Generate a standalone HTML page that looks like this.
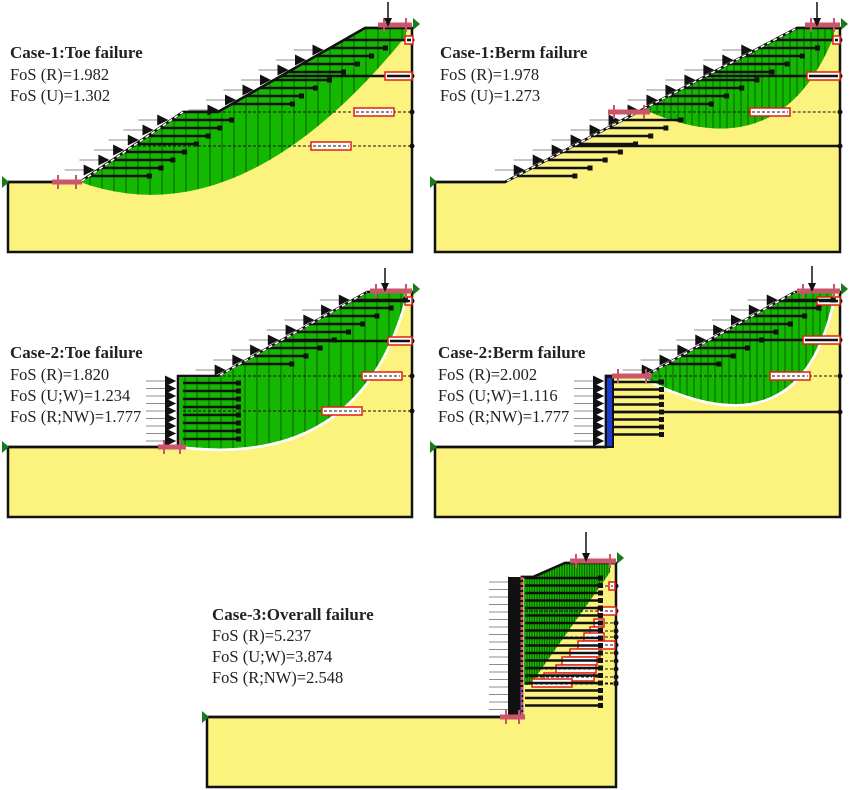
<!DOCTYPE html>
<html><head><meta charset="utf-8">
<style>
html,body{margin:0;padding:0;background:#fff;}
svg{display:block;}
text{font-family:"Liberation Serif",serif;font-size:16.5px;fill:#222;}
.b{font-weight:bold;font-size:17px;}
</style></head>
<body>
<svg id="s" width="850" height="790" viewBox="0 0 850 790" xmlns="http://www.w3.org/2000/svg">
<defs></defs>
<g id="g"></g>
<text x="10" y="58" class="b">Case-1:Toe failure</text>
<text x="10" y="80">FoS (R)=1.982</text>
<text x="10" y="101">FoS (U)=1.302</text>
<text x="440" y="58" class="b">Case-1:Berm failure</text>
<text x="440" y="80">FoS (R)=1.978</text>
<text x="440" y="101">FoS (U)=1.273</text>
<text x="10" y="358" class="b">Case-2:Toe failure</text>
<text x="10" y="380">FoS (R)=1.820</text>
<text x="10" y="401">FoS (U;W)=1.234</text>
<text x="10" y="422">FoS (R;NW)=1.777</text>
<text x="438" y="358" class="b">Case-2:Berm failure</text>
<text x="438" y="380">FoS (R)=2.002</text>
<text x="438" y="401">FoS (U;W)=1.116</text>
<text x="438" y="422">FoS (R;NW)=1.777</text>
<text x="212" y="620" class="b">Case-3:Overall failure</text>
<text x="212" y="641">FoS (R)=5.237</text>
<text x="212" y="662">FoS (U;W)=3.874</text>
<text x="212" y="683">FoS (R;NW)=2.548</text>
</svg>
<script>
var NS="http://www.w3.org/2000/svg";
var G=document.getElementById("g"),D=document.querySelector("defs");
var cid=0;
function el(t,a,p){var e=document.createElementNS(NS,t);for(var k in a)e.setAttribute(k,a[k]);(p||G).appendChild(e);return e;}
function pts(a){return a.map(function(p){return p[0]+","+p[1]}).join(" ");}
function sx(poly,y){for(var i=0;i<poly.length-1;i++){var a=poly[i],b=poly[i+1];if(a[1]!=b[1]&&((y<=a[1]&&y>=b[1])||(y>=a[1]&&y<=b[1]))){return a[0]+(y-a[1])/(b[1]-a[1])*(b[0]-a[0]);}}return null;}
var Y="#fcf27e",GR="#14b800",PK="#c9566a";
function panel(c){
 el("polygon",{points:pts(c.soil),fill:Y,stroke:"#111","stroke-width":2.5});
 var id="c"+(cid++);
 var cp=el("clipPath",{id:id},D);el("path",{d:c.green},cp);
 el("path",{d:c.green,fill:GR,stroke:c.white?"#fff":"none","stroke-width":2.5});
 var gg=el("g",{"clip-path":"url(#"+id+")"});
 for(var x=c.bx0;x<c.bx1;x+=c.slice)el("line",{x1:x,y1:0,x2:x,y2:800,stroke:"#0a4a00","stroke-width":0.8},gg);
 if(c.white)el("path",{d:c.green,fill:"none",stroke:"#fff","stroke-width":2.5});
 c.rl.forEach(function(r){
  var x0=r[3]!=null?r[3]:sx(c.surf,r[0]);
  el("line",{x1:x0,y1:r[0],x2:c.R,y2:r[0],stroke:"#111","stroke-width":r[1]?1:2.5,"stroke-dasharray":r[1]?"3,2":"none"});
  el("circle",{cx:c.R,cy:r[0],r:2.5,fill:"#111"});
  if(r[2]){el("rect",{x:r[2][0],y:r[0]-4,width:r[2][1],height:8,fill:"#fff",stroke:"#e02010","stroke-width":1.5});
   el("line",{x1:r[2][0]+2,y1:r[0],x2:r[2][0]+r[2][1]-2,y2:r[0],stroke:"#111","stroke-width":r[1]?1:2.5,"stroke-dasharray":r[1]?"3,2":"none"});}
 });
 c.nails.forEach(function(n){
  var x0=n[2]!=null?n[2]:sx(c.surf,n[0]);
  el("line",{x1:x0,y1:n[0],x2:x0+n[1],y2:n[0],stroke:"#111","stroke-width":2.5});
  el("rect",{x:x0+n[1]-2,y:n[0]-2.5,width:5,height:5,fill:"#111"});
 });
 el("polyline",{points:pts(c.face),fill:"none",stroke:"#111","stroke-width":2.5});
 if(c.faceW)el("polyline",{points:pts(c.faceW),fill:"none",stroke:"#fff","stroke-width":1.5,"stroke-dasharray":"4,3"});
 c.arr.forEach(function(a){
  var x=a[0],y=a[1];
  el("line",{x1:x-30,y1:y,x2:x,y2:y,stroke:"#666","stroke-width":0.8});
  el("polygon",{points:pts([[x-11,y-5.5],[x,y],[x-11,y+5.5]]),fill:"#111"});
 });
 if(c.wall){var w=c.wall;el("rect",{x:w[0],y:w[1],width:w[2],height:w[3],fill:w[4],stroke:"#111","stroke-width":2});}
 c.pk.forEach(function(p){
  el("line",{x1:p[0],y1:p[1],x2:p[2],y2:p[1],stroke:PK,"stroke-width":5});
  [p[0]+6,p[2]-6].forEach(function(xx){el("line",{x1:xx,y1:p[1]-7,x2:xx,y2:p[1]+7,stroke:PK,"stroke-width":2});});
 });
 var L=c.load;el("line",{x1:L[0],y1:L[1],x2:L[0],y2:L[2]-6,stroke:"#111","stroke-width":1.5});
 el("polygon",{points:pts([[L[0]-4,L[2]-9],[L[0]+4,L[2]-9],[L[0],L[2]]]),fill:"#111"});
 c.flags.forEach(function(f){el("polygon",{points:pts([[f[0],f[1]-6],[f[0]+(f[2]||7),f[1]],[f[0],f[1]+6]]),fill:"#1a7a1a"});});
}
function range(a,b,s){var r=[];for(var v=a;v<=b+0.01;v+=s)r.push(v);return r;}

(function(){
 var surf=[[80,182],[183,112],[218,112],[365,28],[412,28]];
 var nails=range(48,176,8).filter(function(y){return y!=112}).map(function(y){return [y,y<100?55:60]});
 var arr=range(50,178,10).map(function(y){return [sx(surf,y)-3,y]}).filter(function(a){return a[1]!=112});
 panel({soil:[[8,182],[80,182],[183,112],[218,112],[365,28],[412,28],[412,252],[8,252]],
  green:"M80,182 L183,112 L218,112 L365,28 L406,28 L406,36 Q240,240 80,182 Z",
  bx0:90,bx1:410,slice:12,surf:surf,
  rl:[[40,0,[405,8]],[76,0,[385,27]],[112,1,[354,40],218],[146,1,[311,40]]],
  nails:nails,face:[[8,182],[80,182],[183,112],[218,112],[365,28],[412,28]],
  faceW:[[82,181],[183,112]],arr:arr,R:412,
  pk:[[52,182,82],[378,25,412]],load:[388,2,27],flags:[[2,182],[413,24]]});
})();
(function(){
 var surf=[[505,182],[797,28],[840,28]];
 var nails=range(48,176,8).filter(function(y){return y!=112&&y!=146}).map(function(y){return [y,58]});
 var arr=range(50,178,10).map(function(y){return [sx(surf,y)-3,y]});
 panel({soil:[[435,182],[505,182],[797,28],[840,28],[840,252],[435,252]],
  green:"M645,110 L797,28 L834,28 L834,36 Q780,170 645,110 Z",
  bx0:650,bx1:838,slice:7,surf:surf,
  rl:[[40,0,[833,7]],[76,0,[807,33]],[112,1,[750,40]],[146,0,null]],
  nails:nails,face:[[435,182],[505,182],[797,28],[840,28]],
  faceW:[[507,181],[797,28]],arr:arr,R:840,
  pk:[[608,112,650],[805,25,840]],load:[817,2,27],flags:[[430,182],[841,24]]});
})();
(function(){
 var surf=[[218,376],[367,292],[412,292]];
 var up=range(300,368,8).map(function(y){return [y,52]});
 var low=range(383,440,8).map(function(y){return [y,55,183]});
 var arr=range(300,370,10).map(function(y){return [sx(surf,y)-3,y]}).concat(range(381,441,7.5).map(function(y){return [176,y]}));
 panel({soil:[[8,447],[178,447],[178,376],[218,376],[367,292],[412,292],[412,517],[8,517]],
  green:"M178,447 L178,376 L218,376 L367,292 L406,292 L406,300 Q360,470 178,447 Z",white:true,
  bx0:185,bx1:410,slice:12,surf:surf,
  rl:[[301,0,[405,7]],[341,0,[388,24]],[376,1,[362,40],218],[411,1,[322,40],183]],
  nails:up.concat(low),face:[[8,447],[178,447],[178,376],[218,376],[367,292],[412,292]],
  faceW:[[220,375],[367,292]],arr:arr,R:412,
  pk:[[158,447,186],[370,291,412]],load:[385,268,292],flags:[[2,447],[413,289]]});
})();
(function(){
 var surf=[[645,376],[795,292],[840,292]];
 var up=range(300,368,8).map(function(y){return [y,52]});
 var low=range(382,440,7.5).map(function(y){return [y,47,614]});
 var arr=range(300,370,10).map(function(y){return [sx(surf,y)-3,y]}).concat(range(381,441,7.5).map(function(y){return [604,y]}));
 panel({soil:[[435,447],[606,447],[606,376],[645,376],[795,292],[840,292],[840,517],[435,517]],
  green:"M640,377 L645,376 L795,292 L834,292 L834,300 Q800,460 640,377 Z",white:true,
  bx0:645,bx1:838,slice:7,surf:surf,
  rl:[[301,0,[817,23]],[340,0,[803,37]],[376,1,[770,40],614],[412,0,null,614]],
  nails:up.concat(low),face:[[435,447],[606,447],[606,376],[645,376],[795,292],[840,292]],
  faceW:[[647,375],[795,292]],arr:arr,R:840,
  wall:[606,377,7,70,"#1a3ad0"],
  pk:[[612,376,652],[797,291,840]],load:[812,266,292],flags:[[430,447],[841,289]]});
})();
(function(){
 var surf=[[522,717],[522,577],[533,577],[565,563],[616,563]];
 var nails=range(578,712,7.5).map(function(y){return [y,75,525]});
 var arr=range(582,712,7.5).map(function(y){return [519,y]});
 var boxes=[[586,[609,6]],[611,[598,18]],[623,[594,10]],[631,[590,12]],[637,[584,20]],[645,[578,37]],[653,[570,30]],[661,[562,35]],[669,[556,40]],[677,[544,50]],[683,[532,40]]];
 panel({soil:[[207,717],[522,717],[522,577],[533,577],[565,563],[616,563],[616,787],[207,787]],
  green:"M524,577 L533,577 L565,563 L610,563 L610,572 L606,578 L530,685 L524,685 Z",
  bx0:527,bx1:612,slice:2.5,surf:surf,
  rl:boxes.map(function(b){return [b[0],1,b[1],525]}).concat([[684,1,null,525]]),
  nails:nails,face:[[207,717],[522,717],[522,577],[533,577],[565,563],[616,563]],
  arr:arr,R:616,
  wall:[510,578,10,140,"#111"],
  pk:[[500,717,525],[570,561,616]],load:[586,532,562],flags:[[202,717],[617,558]]});
 el("line",{x1:522,y1:577,x2:522,y2:717,stroke:PK,"stroke-width":3,"stroke-dasharray":"3,2"});
 el("line",{x1:521,y1:690,x2:521,y2:715,stroke:"#1a3ad0","stroke-width":2,"stroke-dasharray":"2,3"});
})();
</script>
</body></html>
